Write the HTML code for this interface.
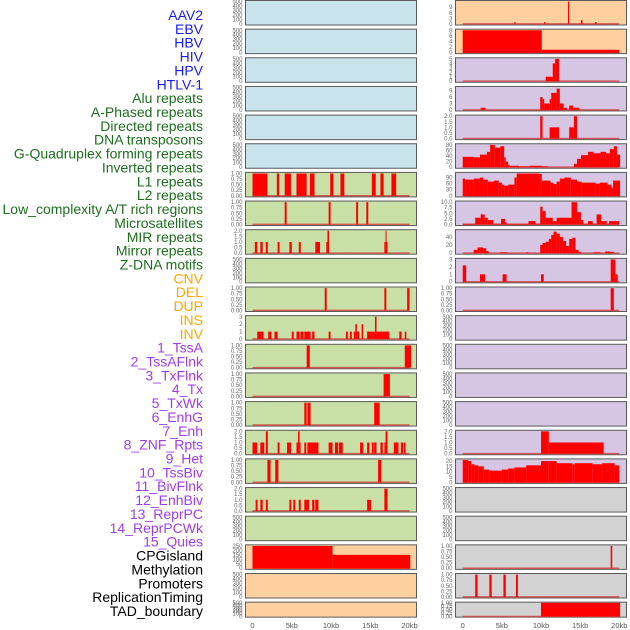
<!DOCTYPE html>
<html><head><meta charset="utf-8">
<style>
html,body{margin:0;padding:0;background:#fff;}
svg{display:block;}
.lab{font-family:"Liberation Sans",sans-serif;font-size:14px;}
.tk{font-family:"Liberation Sans",sans-serif;font-size:6px;fill:#666;}
.xt{font-family:"Liberation Sans",sans-serif;font-size:7.5px;fill:#555;}
</style></head>
<body>
<svg id="chart" width="630" height="630" viewBox="0 0 630 630"></svg>
<script>
// ---- data (segments: [startKb, endKb, value]) ----
const labelNames = ["AAV2","EBV","HBV","HIV","HPV","HTLV-1","Alu repeats","A-Phased repeats","Directed repeats","DNA transposons","G-Quadruplex forming repeats","Inverted repeats","L1 repeats","L2 repeats","Low_complexity A/T rich regions","Microsatellites","MIR repeats","Mirror repeats","Z-DNA motifs","CNV","DEL","DUP","INS","INV","1_TssA","2_TssAFlnk","3_TxFlnk","4_Tx","5_TxWk","6_EnhG","7_Enh","8_ZNF_Rpts","9_Het","10_TssBiv","11_BivFlnk","12_EnhBiv","13_ReprPC","14_ReprPCWk","15_Quies","CPGisland","Methylation","Promoters","ReplicationTiming","TAD_boundary"];
const labelGroups = [0,0,0,0,0,0,1,1,1,1,1,1,1,1,1,1,1,1,1,2,2,2,2,2,3,3,3,3,3,3,3,3,3,3,3,3,3,3,3,4,4,4,4,4];
const xTicks = [0,5,10,15,20];
const xTickLabels = ["0","5kb","10kb","15kb","20kb"];

const leftL1 = [[0,1.9,1],[3.1,3.4,1],[4.1,4.9,1],[5.6,6.9,1],[7.3,7.9,1],[9.9,10.3,1],[11.2,11.7,1],[15.2,15.7,1],[16.3,16.7,1],[17.7,18.3,1]];
const leftL2 = [[4.1,4.35,1],[9.7,9.95,1],[13.2,13.45,1],[14.5,14.75,1]];
const leftMIR = [[0.3,0.6,1],[1.0,1.3,1],[1.7,1.95,1],[3.2,3.45,1],[4.7,5.0,1],[5.9,6.15,1],[8.0,8.6,1],[9.4,9.55,1],[9.55,9.75,2],[16.8,16.95,1],[16.95,17.05,2],[17.05,17.2,1]];
const leftDEL = [[9.2,9.45,1],[16.8,17.05,1],[19.7,20.0,1]];
const leftINS = [[0.6,1.4,1],[2.0,2.4,1],[2.8,3.2,1],[5.0,5.25,1],[5.6,6.0,1],[6.1,6.5,1],[6.6,7.4,1],[7.6,7.9,1],[9.7,9.95,1],[11.9,12.15,1],[12.4,12.65,1],[12.9,13.1,1],[13.1,13.3,2],[13.3,13.6,1],[13.9,14.1,2],[14.6,15.3,1],[15.3,15.6,1],[15.6,15.8,3],[15.8,16.3,1],[16.3,17.4,1],[18.7,19.0,1],[19.4,19.6,1]];
const leftTssA = [[6.9,7.3,1],[19.4,20.2,1]];
const leftTxFlnk = [[16.7,17.5,1]];
const leftTxWk = [[6.6,6.9,1],[7.0,7.4,1],[15.5,16.2,1]];
const leftEnh = [[0,0.6,1],[1.0,1.5,1],[1.7,1.95,2],[3.2,3.45,1],[4.4,4.9,1],[5.6,5.8,1],[5.8,6.0,2],[6.0,6.1,1],[6.6,6.85,1],[7.0,8.4,1],[9.7,10.2,1],[10.5,10.9,1],[11.0,11.5,1],[13.7,14.1,1],[14.6,14.9,1],[15.2,15.45,1],[15.5,15.8,1],[16.3,16.6,1],[16.8,16.95,1],[16.95,17.2,2],[18.0,18.6,1],[18.9,19.2,1],[19.3,19.5,1]];
const leftTssBiv = [[1.9,2.3,1],[2.9,3.3,1],[16.0,16.4,1]];
const leftEnhBiv = [[0.4,0.65,1],[1.0,1.3,1],[1.7,1.95,1],[4.7,4.95,1],[5.2,5.45,1],[5.9,6.15,1],[6.6,7.2,1],[7.6,7.9,1],[8.0,8.4,1],[14.6,15.1,1],[16.8,17.2,2]];
const leftCpG = [[0,10.2,250],[10.2,20.1,150]];

const rightAAV2 = [[6.6,6.75,1],[10.4,10.55,1],[13.45,13.6,12],[15.1,15.3,2],[16.9,17.1,1]];
const rightEBV = [[0,10.1,8],[10.1,20.0,1]];
const rightHBV = [[10.6,11.5,1],[11.5,11.8,4],[11.8,12.3,5]];
const rightHIV = [[2.3,2.9,1],[9.9,10.2,6],[10.2,10.4,5],[10.4,11.1,3],[11.1,11.3,5],[11.3,12.0,8],[12.0,12.4,10],[12.4,12.9,3],[12.9,13.3,1],[13.6,14.1,2],[14.1,14.9,1]];
const rightHPV = [[9.9,10.2,2],[11.1,12.3,1],[13.6,14.2,1],[14.2,14.6,2]];
const rightAlu = [[0,1.4,37],[1.4,2.2,35],[2.2,3.1,45],[3.1,3.5,55],[3.5,4.1,80],[4.1,4.8,70],[4.8,5.3,75],[5.3,5.5,35],[5.5,5.8,20],[5.8,6.0,8],[6.0,7.2,5],[7.2,8.6,3],[8.6,10.1,5],[10.1,10.9,3],[14.2,14.6,12],[14.6,15.1,30],[15.1,16.0,43],[16.0,16.7,55],[16.7,17.6,50],[17.6,18.3,55],[18.3,18.8,50],[18.8,19.3,65],[19.3,19.7,75],[19.7,20.1,45]];
const rightL1 = [[0,0.3,85],[0.3,1.4,80],[1.4,2.2,85],[2.2,2.6,90],[2.6,3.2,80],[3.2,4.0,70],[4.0,4.6,75],[4.6,5.0,65],[5.0,5.3,55],[5.3,5.8,50],[5.8,6.3,55],[6.3,6.6,55],[6.6,6.9,90],[6.9,9.8,110],[9.8,10.1,108],[10.1,11.2,75],[11.2,11.6,65],[11.6,12.0,58],[12.0,12.4,70],[12.4,13.0,85],[13.0,13.8,90],[13.8,14.6,80],[14.6,15.2,70],[15.2,16.0,65],[16.0,17.0,65],[17.0,17.5,60],[17.5,18.5,65],[18.5,19.0,55],[19.0,19.2,40],[19.2,20.1,75]];
const rightLowComplexity = [[0,1.6,0.3],[1.6,2.3,3],[2.3,2.8,4.5],[2.8,3.2,3],[3.2,3.9,2],[3.9,4.9,0.3],[4.9,5.4,2.5],[5.4,5.6,1],[5.6,8.4,0.3],[8.4,9.3,1.5],[9.3,9.9,0.3],[9.9,10.2,8],[10.2,10.6,6],[10.6,11.5,3],[11.5,12.0,1.5],[12.0,13.9,3],[13.9,14.6,10],[14.6,15.1,5.5],[15.1,15.4,2],[15.4,16.0,0.3],[16.0,16.6,1.5],[16.6,17.1,0.3],[17.1,17.7,4.5],[17.7,18.4,1.5],[18.4,18.7,0.3],[18.7,20.0,1.5]];
const rightMIR = [[1.4,1.9,8],[1.9,2.6,14],[2.6,3.0,12],[3.0,3.3,5],[4.8,5.7,2],[8.1,8.4,2],[9.9,10.2,20],[10.2,10.6,25],[10.6,11.0,28],[11.0,11.3,35],[11.3,11.6,45],[11.6,12.0,53],[12.0,12.4,48],[12.4,12.8,40],[12.8,13.2,30],[13.2,13.6,18],[13.6,14.0,35],[14.0,14.4,38],[14.4,14.8,8],[14.8,15.1,3],[16.7,17.6,2],[18.2,18.8,4],[18.8,19.3,3]];
const rightZDNA = [[0,0.45,2.2],[2.2,2.85,1],[5.1,5.6,1],[10.0,10.35,1],[18.9,19.5,3],[19.5,19.8,1]];
const rightDEL = [[18.9,19.3,1]];
const rightZNF = [[10.0,11.0,2],[11.0,18.0,1]];
const rightHet = [[0,0.7,21],[0.7,1.1,20],[1.1,1.5,17],[1.5,2.0,16],[2.0,2.7,15],[2.7,3.4,12],[3.4,5.0,11],[5.0,5.8,12],[5.8,6.6,13],[6.6,8.1,14],[8.1,10.0,16],[10.0,11.0,20],[11.0,12.0,20],[12.0,14.0,18],[14.0,14.3,17],[14.3,16.6,18],[16.6,17.8,17],[17.8,19.4,18],[19.4,20.0,16]];
const rightMethylation = [[18.9,19.1,1]];
const rightPromoters = [[1.6,1.9,1],[3.4,3.7,1],[5.2,5.5,1],[6.8,7.05,1]];
const rightTAD = [[10.0,20.1,1]];

const ticksBlank = [0,100,200,300,400,500];
const ticks1 = [0,0.25,0.5,0.75,1];
const ticks2 = [0,0.5,1,1.5,2];

// panel configs: [segments, ymax, ticks, decimals, bg, baseline]
const BLUE="#c8e3eb", GREEN="#c8e0a5", ORANGE="#ffd09f", PURPLE="#d7c6e3", GREY="#d2d2d2";
const leftPanels = [
 [[],500,ticksBlank,0,BLUE,false,"virus-aav2-left"],
 [[],500,ticksBlank,0,BLUE,false,"virus-ebv-left"],
 [[],500,ticksBlank,0,BLUE,false,"virus-hbv-left"],
 [[],500,ticksBlank,0,BLUE,false,"virus-hiv-left"],
 [[],500,ticksBlank,0,BLUE,false,"virus-hpv-left"],
 [[],500,ticksBlank,0,BLUE,false,"virus-htlv-left"],
 [leftL1,1,ticks1,2,GREEN,true,"l1-left"],
 [leftL2,1,ticks1,2,GREEN,true,"l2-left"],
 [leftMIR,2,ticks2,1,GREEN,true,"mir-left"],
 [[],500,ticksBlank,0,GREEN,false,"blank-left"],
 [leftDEL,1,ticks1,2,GREEN,true,"del-left"],
 [leftINS,3,[0,1,2,3],0,GREEN,true,"ins-left"],
 [leftTssA,1,ticks1,2,GREEN,true,"tssa-left"],
 [leftTxFlnk,1,ticks1,2,GREEN,true,"txflnk-left"],
 [leftTxWk,1,ticks1,2,GREEN,true,"txwk-left"],
 [leftEnh,2,ticks2,1,GREEN,true,"enh-left"],
 [leftTssBiv,1,ticks1,2,GREEN,true,"tssbiv-left"],
 [leftEnhBiv,2,ticks2,1,GREEN,true,"enhbiv-left"],
 [[],500,ticksBlank,0,GREEN,false,"quies-left"],
 [leftCpG,250,[0,50,100,150,200,250],0,ORANGE,false,"cpg-left"],
 [[],500,ticksBlank,0,ORANGE,false,"promoters-left"],
 [[],500,ticksBlank,0,ORANGE,false,"tad-left"]
];
const rightPanels = [
 [rightAAV2,12,[0,3,6,9],0,ORANGE,true,"aav2-right"],
 [rightEBV,8,[0,2,4,6,8],0,ORANGE,false,"ebv-right"],
 [rightHBV,5,[0,1,2,3,4,5],0,PURPLE,true,"hbv-right"],
 [rightHIV,10.5,[0,3,6,9],0,PURPLE,true,"hiv-right"],
 [rightHPV,2,ticks2,1,PURPLE,true,"hpv-right"],
 [rightAlu,80,[0,20,40,60,80],0,PURPLE,true,"alu-right"],
 [rightL1,110,[0,30,60,90],0,PURPLE,false,"l1-right"],
 [rightLowComplexity,10,[0,2.5,5,7.5,10],1,PURPLE,true,"lowcomplexity-right"],
 [rightMIR,55,[0,20,40],0,PURPLE,true,"mir-right"],
 [rightZDNA,3,[0,1,2,3],0,PURPLE,true,"zdna-right"],
 [rightDEL,1,ticks1,2,PURPLE,true,"del-right"],
 [[],500,ticksBlank,0,PURPLE,false,"blank-right-1"],
 [[],500,ticksBlank,0,PURPLE,false,"blank-right-2"],
 [[],500,ticksBlank,0,PURPLE,false,"blank-right-3"],
 [[],500,ticksBlank,0,PURPLE,false,"blank-right-4"],
 [rightZNF,2,ticks2,1,PURPLE,true,"znf-right"],
 [rightHet,21,[0,5,10,15,20],0,PURPLE,false,"het-right"],
 [[],500,ticksBlank,0,GREY,false,"blank-right-5"],
 [[],500,ticksBlank,0,GREY,false,"blank-right-6"],
 [rightMethylation,1,ticks1,2,GREY,true,"methylation-right"],
 [rightPromoters,1,ticks1,2,GREY,true,"promoters-right"],
 [rightTAD,1,ticks1,2,GREY,true,"tad-right"]
];
const groupColors = ["#1a1aff","#1d6e1d","#ffa500","#a03cf0","#000000"];

const NS="http://www.w3.org/2000/svg";
const svg=document.getElementById("chart");
function mk(tag,attrs,parent){const e=document.createElementNS(NS,tag);for(const k in attrs)e.setAttribute(k,attrs[k]);(parent||svg).appendChild(e);return e;}

// labels
labelNames.forEach((n,i)=>{
  const t=mk("text",{x:203,y:15+13.86*i+5,"text-anchor":"end",class:"lab",fill:groupColors[labelGroups[i]]});
  t.textContent=n;
  
  
});

function drawColumn(panels,left,width,x0px,pxPerKb){
  const xs=kb=>x0px+kb*pxPerKb;
  panels.forEach((p,i)=>{
    const [segs,ymax,ticks,dec,bg,base,name]=p;
    const top=0.5+28.65*i;
    const h=(i===panels.length-1)?15:24.5;
    const g=mk("g",{});
    
    
    mk("rect",{x:left,y:top,width:width,height:h,fill:bg,stroke:"#5a5a5a","stroke-width":1},g);
    const lo=-0.05*ymax, hi=1.05*ymax;
    const ys=v=>top+h-(v-lo)/(hi-lo)*h;
    if(base){
      const b=mk("line",{x1:xs(0),x2:xs(20),y1:ys(0),y2:ys(0),stroke:"#d23c3c","stroke-width":1.5,opacity:0.8},g);
      
      
    }
    segs.forEach(s=>{
      const r=mk("rect",{x:xs(s[0]),width:Math.max(1,xs(s[1])-xs(s[0])),y:ys(s[2]),height:Math.max(0.5,ys(0)-ys(s[2])+ (base?0:0.5)),fill:"#ff0000"},g);
      
      
    });
    ticks.forEach(tv=>{
      const t=mk("text",{x:left-3,y:ys(tv)+2,"text-anchor":"end",class:"tk"},g);
      t.textContent=tv.toFixed(dec);
      
      
    });
  });
  xTicks.forEach((kb,j)=>{
    const t=mk("text",{x:xs(kb),y:628,"text-anchor":"middle",class:"xt"});
    t.textContent=xTickLabels[j];
    
    
  });
}
drawColumn(leftPanels,245.5,171,252.5,7.85);
drawColumn(rightPanels,455.5,171,462.7,7.83);
</script>
</body></html>
